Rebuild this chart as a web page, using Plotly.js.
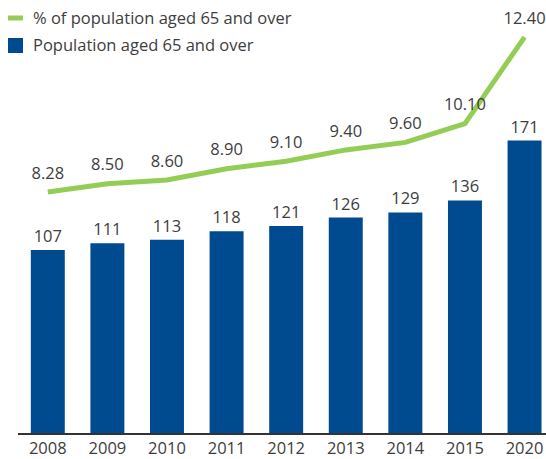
<!DOCTYPE html>
<html>
<head>
<meta charset="utf-8">
<script src="https://cdn.plot.ly/plotly-3.0.1.min.js"></script>
<style>html,body{margin:0;padding:0;background:#fff}#chart{width:546px;height:459px}</style>
</head>
<body>
<div id="chart"></div>
<script>
var years = ["2008","2009","2010","2011","2012","2013","2014","2015","2020"];
var population = [107,111,113,118,121,126,129,136,171];
var percent = [8.28,8.50,8.60,8.90,9.10,9.40,9.60,10.10,12.40];
var percentLabels = ["8.28","8.50","8.60","8.90","9.10","9.40","9.60","10.10","12.40"];
var seriesNames = ["% of population aged 65 and over", "Population aged 65 and over"];

var textColor = "#3d3d3d";
var font = "Open Sans, Noto Sans, sans-serif";
var green = "#94cd55";
var blue = "#004a90";

// plot area in pixels
var L = 18, T = 20, W = 546 - 18, H = 459 - 20 - 26;
function px(x) { return (x - L) / W; }
function py(y) { return (T + H - y) / H; }

var traces = [
  {
    type: "scatter",
    mode: "lines+markers+text",
    name: seriesNames[0],
    x: years,
    y: percent,
    yaxis: "y2",
    text: percentLabels,
    textposition: "top center",
    textfont: {size: 16.5, color: textColor, family: font},
    line: {color: green, width: 5},
    marker: {size: 13, opacity: 0, color: green},
    cliponaxis: false,
    showlegend: false
  },
  {
    type: "bar",
    name: seriesNames[1],
    x: years,
    y: population,
    text: population.map(String),
    textposition: "outside",
    textfont: {size: 16.5, color: textColor, family: font},
    marker: {color: blue},
    cliponaxis: false,
    showlegend: false
  }
];

var layout = {
  width: 546,
  height: 459,
  margin: {l: L, r: 0, t: T, b: 26},
  paper_bgcolor: "#fff",
  plot_bgcolor: "#fff",
  font: {family: font, color: textColor, size: 16},
  bargap: 0.43,
  showlegend: false,
  shapes: [
    {type: "line", xref: "paper", yref: "paper", x0: px(8), x1: px(23), y0: py(18), y1: py(18),
     line: {color: green, width: 5}},
    {type: "rect", xref: "paper", yref: "paper", x0: px(8), x1: px(23), y0: py(38), y1: py(53),
     fillcolor: blue, line: {width: 0}}
  ],
  annotations: [
    {xref: "paper", yref: "paper", x: px(31), y: py(18), xanchor: "left", yanchor: "middle",
     text: seriesNames[0], showarrow: false, font: {size: 16.5, color: textColor, family: font}},
    {xref: "paper", yref: "paper", x: px(31), y: py(45), xanchor: "left", yanchor: "middle",
     text: seriesNames[1], showarrow: false, font: {size: 16.5, color: textColor, family: font}}
  ],
  xaxis: {
    type: "category",
    range: [-0.5, 8.36],
    showgrid: false,
    zeroline: false,
    showline: true,
    linecolor: "#333333",
    linewidth: 1.5,
    ticks: "",
    ticklabelstandoff: 0,
    tickfont: {size: 16.5, color: textColor, family: font}
  },
  yaxis: {
    range: [0, 241.5],
    visible: false,
    showgrid: false,
    zeroline: false
  },
  yaxis2: {
    range: [1.87, 12.855],
    overlaying: "y",
    visible: false,
    showgrid: false,
    zeroline: false
  }
};

Plotly.newPlot("chart", traces, layout, {displayModeBar: false, staticPlot: true});
</script>
</body>
</html>
